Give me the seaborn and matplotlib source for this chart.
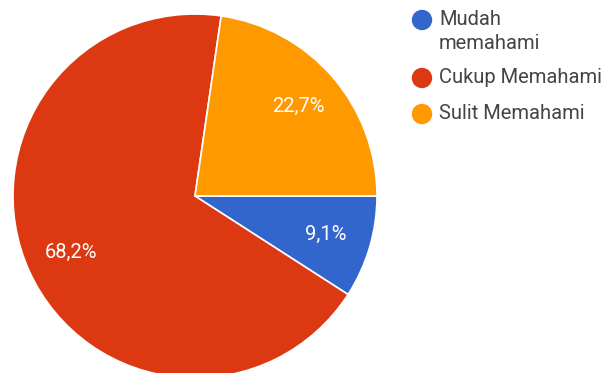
import matplotlib
matplotlib.use("Agg")
import matplotlib.pyplot as plt
import matplotlib.patches as mpatches
import numpy as np
import seaborn as sns

categories = ["Mudah\nmemahami", "Cukup Memahami", "Sulit Memahami"]
values = [9.1, 68.2, 22.7]
pct_labels = ["9,1%", "68,2%", "22,7%"]
colors = ["#3366cc", "#dc3912", "#ff9900"]

sns.set_theme(style="white")
plt.rcParams['font.family'] = ['Roboto', 'DejaVu Sans']
palette = sns.color_palette(colors)

W, H = 609, 373
fig = plt.figure(figsize=(W / 100, H / 100), dpi=100)
R = 182
cx, cy = 195, 196
ax = fig.add_axes([(cx - R) / W, (H - cy - R) / H, 2 * R / W, 2 * R / H])
wedges, _ = ax.pie(values, colors=palette, startangle=0, counterclock=False,
                   radius=1, wedgeprops=dict(edgecolor="white", linewidth=1.2))
for w, lab in zip(wedges, pct_labels):
    mid = np.deg2rad((w.theta1 + w.theta2) / 2)
    ax.text(0.75 * np.cos(mid), 0.75 * np.sin(mid), lab, ha="center", va="center",
            color="white", fontsize=14.5)
ax.set_xlim(-1, 1)
ax.set_ylim(-1, 1)
ax.set_aspect("equal")
ax.axis("off")

# legend
ys = [20, 78, 114]
for lab, col, y in zip(categories, palette, ys):
    fig.add_artist(mpatches.Ellipse((422 / W, 1 - y / H), 19 / W, 19 / H,
                                    transform=fig.transFigure, color=col))
    fig.text(439 / W, 1 - (y - 10) / H, lab, ha="left", va="top", fontsize=14.5,
             color="#444444", linespacing=1.36)

fig.savefig("out.png", dpi=100)
